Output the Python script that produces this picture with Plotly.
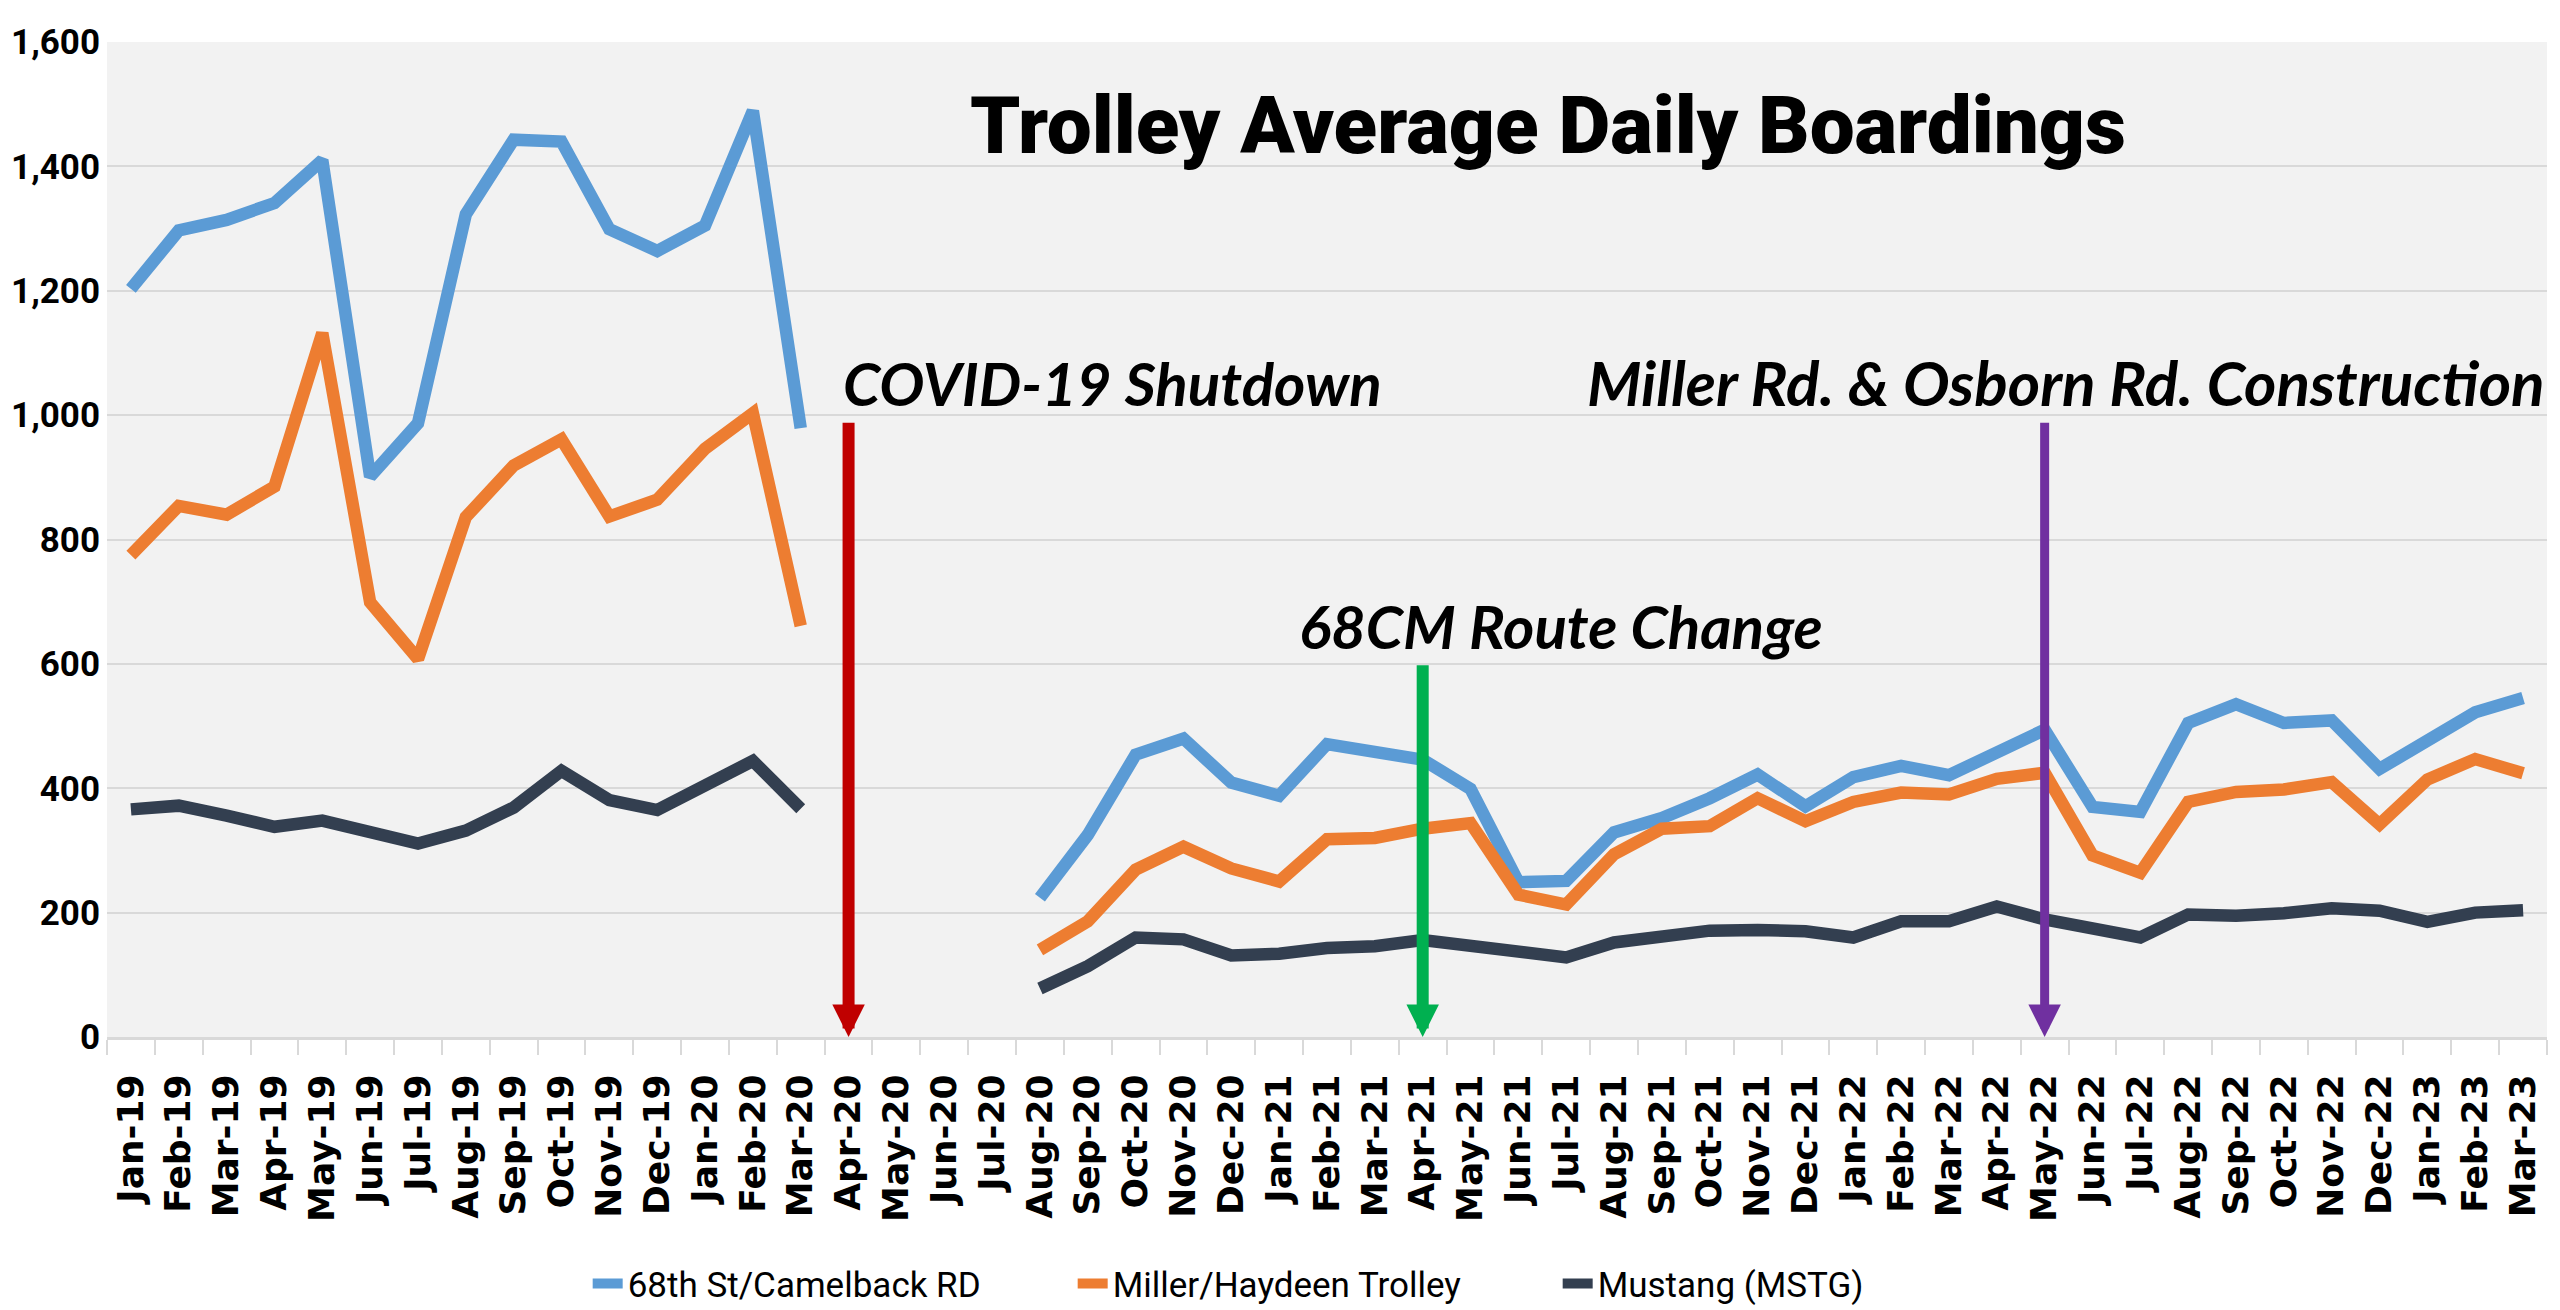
import plotly.graph_objects as go

# month categories on the x axis
months = [
    "Jan-19", "Feb-19", "Mar-19", "Apr-19", "May-19", "Jun-19", "Jul-19", "Aug-19", "Sep-19", "Oct-19", "Nov-19", "Dec-19",
    "Jan-20", "Feb-20", "Mar-20", "Apr-20", "May-20", "Jun-20", "Jul-20", "Aug-20", "Sep-20", "Oct-20", "Nov-20", "Dec-20",
    "Jan-21", "Feb-21", "Mar-21", "Apr-21", "May-21", "Jun-21", "Jul-21", "Aug-21", "Sep-21", "Oct-21", "Nov-21", "Dec-21",
    "Jan-22", "Feb-22", "Mar-22", "Apr-22", "May-22", "Jun-22", "Jul-22", "Aug-22", "Sep-22", "Oct-22", "Nov-22", "Dec-22",
    "Jan-23", "Feb-23", "Mar-23",
]

# average daily boardings (None = no service)
camelback = [
    1203, 1297, 1314, 1341, 1410, 901, 987, 1323, 1443, 1440, 1299, 1264,
    1305, 1489, 979, None, None, None, None, 224, 325, 454, 480, 409,
    388, 471, 457, 446, 399, 249, 251, 329, 352, 384, 422, 371,
    418, 436, 421, 459, 494, 370, 362, 505, 535, 505, 509, 431,
    474, 522, 545,
]
miller = [
    775, 854, 840, 885, 1132, 699, 608, 836, 919, 961, 837, 864,
    946, 1003, 661, None, None, None, None, 140, 186, 269, 306, 271,
    250, 318, 320, 335, 344, 229, 213, 294, 335, 339, 384, 347,
    378, 393, 390, 415, 425, 292, 264, 378, 394, 398, 410, 342,
    414, 447, 424,
]
mustang = [
    366, 372, 356, 338, 348, 330, 311, 332, 369, 428, 381, 365,
    407, 444, 367, None, None, None, None, 78, 114, 160, 157, 131,
    134, 143, 146, 156, 147, 134, 128, 152, 163, 171, 172, 170,
    160, 186, 186, 210, 189, 175, 160, 197, 195, 199, 207, 203,
    185, 200, 204,
]

series_names = ["68th St/Camelback RD", "Miller/Haydeen Trolley", "Mustang (MSTG)"]
series_colors = ["#5B9BD5", "#ED7D31", "#333F50"]

# event markers
event_months = ["Apr-20", "Apr-21", "May-22"]
event_labels = ["COVID-19 Shutdown", "68CM Route Change", "Miller Rd. & Osborn Rd. Construction"]
event_tops = [990, 600, 990]
event_colors = ["#C00000", "#00B050", "#7030A0"]
event_widths = [12, 12, 9]

y_ticks = [0, 200, 400, 600, 800, 1000, 1200, 1400, 1600]

LABEL_FONT = "Lato, Noto Sans, sans-serif"
label_font = dict(family=LABEL_FONT, size=60, color="black", weight="bold", style="italic")

fig = go.Figure()
for name, vals, col in zip(series_names, [camelback, miller, mustang], series_colors):
    fig.add_trace(go.Scatter(
        x=months, y=vals, name=name, mode="lines",
        line=dict(color=col, width=12.5),
        connectgaps=False,
    ))

# arrows
for m, top, col, w in zip(event_months, event_tops, event_colors, event_widths):
    fig.add_annotation(
        x=m, y=0, ax=m, ay=top, xref="x", yref="y", axref="x", ayref="y",
        text="", showarrow=True, arrowhead=2, arrowsize=6.5 / w,
        arrowwidth=w, arrowcolor=col,
    )

# event labels
fig.add_annotation(x=event_months[0], y=event_tops[0], xref="x", yref="y",
                   text=event_labels[0], showarrow=False, xanchor="left", yanchor="bottom",
                   xshift=-8, font=label_font)
fig.add_annotation(x=event_months[1], y=event_tops[1], xref="x", yref="y",
                   text=event_labels[1], showarrow=False, xanchor="left", yanchor="bottom",
                   xshift=-126, font=label_font)
fig.add_annotation(x=1.0, y=event_tops[2], xref="paper", yref="y",
                   text=event_labels[2], showarrow=False, xanchor="right", yanchor="bottom",
                   font=dict(label_font, size=62))

# title inside the plot
fig.add_annotation(x=0.5906, y=0.916, xref="paper", yref="paper",
                   text="Trolley Average Daily Boardings", showarrow=False,
                   xanchor="center", yanchor="middle",
                   font=dict(family="Roboto, Liberation Sans", size=80, color="black", weight=900))

# thin frame line on the right edge
fig.add_shape(type="line", xref="paper", yref="paper",
              x0=(2556 - 99) / 2440, x1=(2556 - 99) / 2440, y0=-281 / 995, y1=1.034,
              line=dict(color="#2E75B6", width=3))

fig.update_layout(
    width=2560, height=1310,
    margin=dict(l=99, r=21, t=34, b=281, autoexpand=False),
    paper_bgcolor="white",
    plot_bgcolor="#F2F2F2",
    showlegend=True,
    legend=dict(
        orientation="h", x=0.197, y=-0.248, xanchor="left", yanchor="middle",
        font=dict(family="Roboto", size=35, color="black"),
        entrywidth=440, entrywidthmode="pixels",
        bgcolor="rgba(0,0,0,0)",
    ),
    xaxis=dict(
        type="category", categoryorder="array", categoryarray=months,
        range=[-0.5, len(months) - 0.5],
        tickangle=-90, tickson="boundaries", ticks="outside", ticklen=15,
        tickcolor="#D9D9D9", tickwidth=2,
        showline=True, linecolor="#D9D9D9", linewidth=3,
        showgrid=False,
        tickfont=dict(family="DejaVu Sans", size=36, color="black", weight="bold"),
        ticklabelstandoff=20,
    ),
    yaxis=dict(
        range=[0, 1600], tickvals=y_ticks, tickformat=",d",
        showgrid=True, gridcolor="#D9D9D9", gridwidth=2,
        zeroline=False, showline=False,
        tickfont=dict(family="Roboto", size=35, color="black", weight="bold"),
        ticklabelstandoff=6,
    ),
)

fig.write_html("out.html")
